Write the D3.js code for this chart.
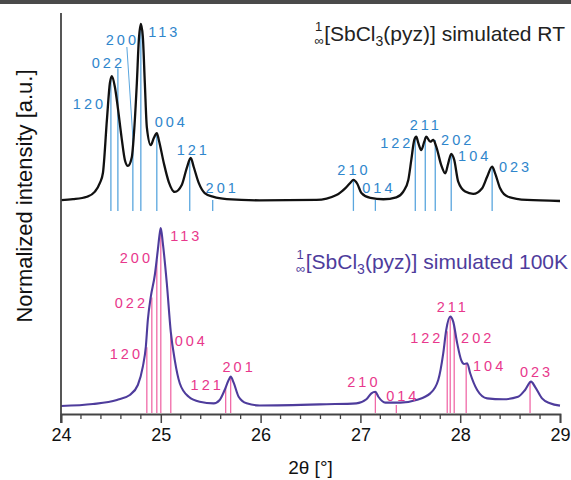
<!DOCTYPE html>
<html>
<head>
<meta charset="utf-8">
<script src="https://cdnjs.cloudflare.com/ajax/libs/d3/7.8.5/d3.min.js"></script>
<style>
	body { margin: 0; background: #fff; }
	text { font-family: "Liberation Sans", Arial, sans-serif; }
</style>
</head>
<body>
<div id="chart"></div>
<script>
// simulated RT pattern, [2theta, normalized intensity]
var rtCurve = [
	[24.00, 0.5], [24.12, 1.0], [24.26, 2.4], [24.34, 5.3], [24.39, 10.2], [24.42, 15.8],
	[24.46, 45.8], [24.49, 66.7], [24.51, 70.6], [24.54, 64.4], [24.57, 52.5], [24.61, 34.5],
	[24.64, 23.2], [24.67, 19.8], [24.71, 24.9], [24.73, 37.3], [24.76, 66.7], [24.78, 91.0],
	[24.80, 100], [24.82, 92.7], [24.84, 66.7], [24.86, 41.8], [24.90, 31.6], [24.93, 35.6],
	[24.96, 38.4], [24.98, 34.5], [25.03, 21.5], [25.08, 10.7], [25.14, 5.1], [25.21, 9.0],
	[25.26, 18.6], [25.30, 24.3], [25.33, 19.2], [25.38, 10.2], [25.44, 4.5], [25.53, 2.3],
	[25.66, 1.1], [25.99, 0.4], [26.56, 0.6], [26.76, 3.4], [26.85, 7.3], [26.90, 10.3],
	[26.93, 11.9], [26.97, 9.6], [27.01, 4.5], [27.10, 1.7], [27.23, 1.0], [27.36, 2.1],
	[27.43, 5.3], [27.48, 11.9], [27.51, 23.2], [27.54, 34.5], [27.56, 36.3], [27.58, 32.8],
	[27.61, 28.8], [27.64, 33.5], [27.66, 36.3], [27.70, 33.5], [27.73, 34.5], [27.76, 30.7],
	[27.81, 20.3], [27.85, 15.6], [27.88, 21.3], [27.91, 26.6], [27.94, 23.2], [27.98, 10.9],
	[28.05, 5.3], [28.13, 4.0], [28.22, 7.2], [28.27, 13.7], [28.32, 19.4], [28.35, 15.6],
	[28.40, 7.2], [28.48, 2.4], [28.67, 0.6], [29.00, 0.0]
];

// simulated 100K pattern
var lowCurve = [
	[24.00, 0.0], [24.32, 1.1], [24.56, 3.4], [24.69, 6.2], [24.77, 11.8], [24.82, 22.1],
	[24.85, 33.3], [24.87, 48.3], [24.90, 61.4], [24.94, 73.6], [24.97, 87.6], [24.99, 97.2],
	[25.00, 100], [25.02, 91.6], [25.06, 69.1], [25.10, 41.7], [25.14, 25.8], [25.19, 12.8],
	[25.28, 5.2], [25.39, 2.4], [25.53, 1.5], [25.59, 3.4], [25.64, 9.0], [25.68, 14.6],
	[25.70, 16.5], [25.73, 13.1], [25.78, 5.2], [25.86, 1.5], [25.99, 0.3], [26.66, 1.0],
	[26.96, 1.5], [27.06, 3.8], [27.11, 7.1], [27.15, 8.0], [27.18, 5.2], [27.25, 1.9],
	[27.40, 1.9], [27.56, 3.4], [27.70, 7.1], [27.78, 14.6], [27.83, 29.6], [27.86, 42.7],
	[27.90, 50.2], [27.93, 47.4], [27.97, 35.2], [28.01, 25.8], [28.04, 23.6], [28.07, 24.0],
	[28.10, 18.4], [28.17, 9.0], [28.27, 4.3], [28.43, 3.8], [28.58, 5.2], [28.65, 9.0],
	[28.71, 13.7], [28.75, 10.8], [28.82, 4.3], [28.90, 1.5], [29.00, 0.2]
];

// reflections: hkl, 2theta, height
var hkl = ["120", "022", "200", "113", "004", "121", "201", "210", "014", "122", "211", "202", "104", "023"];
var rtPos = [24.50, 24.57, 24.72, 24.80, 24.96, 25.29, 25.52, 26.93, 27.15, 27.55, 27.65, 27.75, 27.91, 28.32];
var rtInt = [70, 75, 36, 100, 38.4, 24.3, 0.6, 11.9, 0.6, 36, 36, 34.5, 26.6, 19.2];
var lowPos = [24.86, 24.91, 24.96, 25.00, 25.10, 25.65, 25.70, 27.15, 27.36, 27.87, 27.90, 27.94, 28.06, 28.70];
var lowInt = [33, 61, 82, 100, 41, 10.7, 16.5, 8, 0.5, 42, 50, 45, 24, 13.7];

// where each hkl label sits, in data units
var rtLabelAt = [[24.27, 54.8], [24.46, 78.0], [24.60, 91.0], [25.02, 95.5], [25.09, 44.6], [25.31, 28.8], [25.60, 7.3],
	[26.92, 17.5], [27.17, 7.3], [27.35, 32.8], [27.64, 42.9], [27.96, 34.5], [28.13, 25.4], [28.54, 19.2]];
var lowLabelAt = [[24.64, 29.2], [24.69, 57.9], [24.74, 83.1], [25.24, 95.5], [25.29, 36.5], [25.45, 11.8], [25.77, 21.9],
	[27.02, 13.5], [27.41, 5.6], [27.65, 38.2], [27.91, 55.6], [28.16, 38.2], [28.28, 22.5], [28.75, 19.1]];
var rtLeader = [[24.72, 36], [24.66, 87]];

var xTicks = [24, 25, 26, 27, 28, 29];

var width = 571, height = 480;
var svg = d3.select("#chart").append("svg")
	.attr("width", width)
	.attr("height", height);

svg.append("rect").attr("x", 0).attr("y", 0).attr("width", width).attr("height", 4).attr("fill", "#4a4a4a");

var x = d3.scaleLinear().domain([24, 29]).range([61, 560]);
var yRT = d3.scaleLinear().domain([0, 100]).range([201, 24]);
var yLow = d3.scaleLinear().domain([0, 100]).range([406, 228]);

var blue = "#2f86cc", blueLine = "#5aa6de";
var pink = "#e8388c", pinkLine = "#f06aa8";
var purple = "#4e3c9c";

// reflection sticks
function sticks(pos, inten, y, color, bottom) {
	svg.append("g").selectAll("line")
		.data(pos)
		.enter()
		.append("line")
		.attr("x1", function(d) { return x(d); })
		.attr("x2", function(d) { return x(d); })
		.attr("y1", y(bottom))
		.attr("y2", function(d, i) { return y(inten[i]); })
		.attr("stroke", color)
		.attr("stroke-width", 1.3);
}
sticks(rtPos, rtInt, yRT, blueLine, -5.6);
sticks(lowPos, lowInt, yLow, pinkLine, -3.9);

svg.append("line")
	.attr("x1", x(rtLeader[0][0])).attr("y1", yRT(rtLeader[0][1]))
	.attr("x2", x(rtLeader[1][0])).attr("y2", yRT(rtLeader[1][1]))
	.attr("stroke", blueLine).attr("stroke-width", 1);

// curves
function curve(data, y, color, w) {
	var line = d3.line()
		.x(function(d) { return x(d[0]); })
		.y(function(d) { return y(d[1]); })
		.curve(d3.curveMonotoneX);
	svg.append("path")
		.datum(data)
		.attr("d", line)
		.attr("fill", "none")
		.attr("stroke", color)
		.attr("stroke-width", w)
		.attr("stroke-linejoin", "round");
}
curve(rtCurve, yRT, "#111", 2.3);
curve(lowCurve, yLow, purple, 2.1);

// hkl labels
function labels(at, y, color) {
	svg.append("g").selectAll("text")
		.data(at)
		.enter()
		.append("text")
		.attr("x", function(d) { return x(d[0]) + 1.5; })
		.attr("y", function(d) { return y(d[1]); })
		.attr("dy", "0.36em")
		.attr("text-anchor", "middle")
		.attr("font-size", 14.5)
		.attr("letter-spacing", "3px")
		.attr("fill", color)
		.text(function(d, i) { return hkl[i]; });
}
labels(rtLabelAt, yRT, blue);
labels(lowLabelAt, yLow, pink);

// titles
function title(xr, yb, rest, color) {
	var t = svg.append("text")
		.attr("x", xr).attr("y", yb)
		.attr("text-anchor", "end")
		.attr("font-size", 21)
		.attr("fill", color);
	t.append("tspan").text("[SbCl");
	t.append("tspan").attr("font-size", 14).attr("dy", 5).text("3");
	t.append("tspan").attr("dy", -5).text("(pyz)] simulated " + rest);
	var bb = t.node().getBBox();
	svg.append("text").attr("x", bb.x - 0.5).attr("y", yb + 4)
		.attr("text-anchor", "end").attr("font-size", 13).attr("fill", color).text("\u221e");
	svg.append("text").attr("x", bb.x - 2).attr("y", yb - 10)
		.attr("text-anchor", "end").attr("font-size", 13).attr("fill", color).text("1");
}
title(565, 41, "RT", "#222");
title(568, 269, "100K", purple);

// axes
var xAxis = d3.axisBottom(x).tickValues(xTicks).tickSize(9).tickPadding(5).tickFormat(d3.format("d"));
var gx = svg.append("g").attr("transform", "translate(0,414)").call(xAxis);
gx.select(".domain").attr("stroke", "#444").attr("stroke-width", 1.8);
gx.selectAll(".tick line").attr("stroke", "#444").attr("stroke-width", 1.5);
gx.selectAll(".tick text").attr("font-size", 18).attr("fill", "#111")
	.style("font-family", "'Liberation Sans', Arial, sans-serif");

var minor = d3.range(24.2, 29, 0.2).filter(function(d) { return Math.abs(d - Math.round(d)) > 0.01; });
svg.append("g").selectAll("line")
	.data(minor)
	.enter()
	.append("line")
	.attr("x1", function(d) { return x(d); })
	.attr("x2", function(d) { return x(d); })
	.attr("y1", 414).attr("y2", 419)
	.attr("stroke", "#444").attr("stroke-width", 1.3);

svg.append("line")
	.attr("x1", x(24)).attr("x2", x(24))
	.attr("y1", 13).attr("y2", 423)
	.attr("stroke", "#444").attr("stroke-width", 1.8);

svg.append("text")
	.attr("x", x(26.5)).attr("y", 474)
	.attr("text-anchor", "middle")
	.attr("font-size", 19)
	.attr("fill", "#111")
	.text("2\u03b8 [\u00b0]");

svg.append("text")
	.attr("transform", "translate(32,196) rotate(-90)")
	.attr("text-anchor", "middle")
	.attr("font-size", 22)
	.attr("fill", "#111")
	.text("Normalized intensity [a.u.]");
</script>
</body>
</html>
